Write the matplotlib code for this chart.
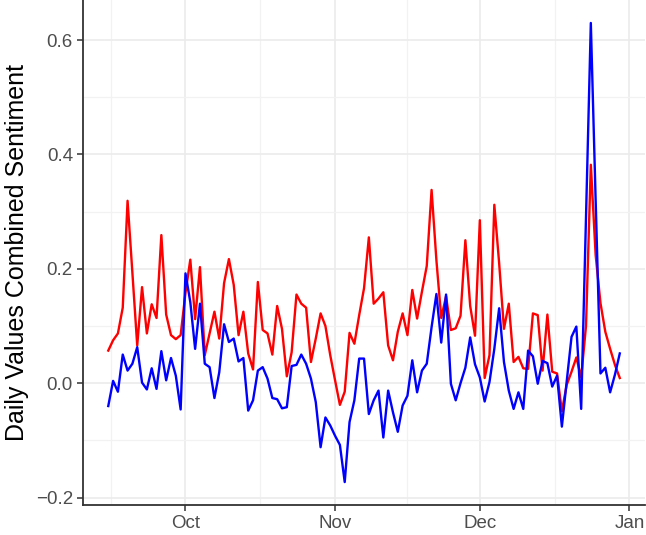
import numpy as np
import pandas as pd
import matplotlib
matplotlib.use("Agg")
import matplotlib.pyplot as plt
import matplotlib.dates as mdates

plt.rcParams['font.family'] = ['Liberation Sans', 'DejaVu Sans']

# daily values, 15 Sep - 30 Dec
dates = pd.date_range("2019-09-15", "2019-12-30", freq="D")

red_vals = [
    0.057, 0.075, 0.087, 0.132, 0.319, 0.193, 0.066, 0.168, 0.087, 0.138,
    0.114, 0.259, 0.120, 0.084, 0.077, 0.084,
    0.158, 0.216, 0.112, 0.203, 0.049, 0.087, 0.125, 0.078, 0.175, 0.217,
    0.172, 0.084, 0.125, 0.052, 0.024, 0.177, 0.093, 0.087, 0.050, 0.135,
    0.095, 0.012, 0.054, 0.155, 0.139, 0.132, 0.037, 0.078, 0.122, 0.100,
    0.049,
    0.005, -0.038, -0.015, 0.088, 0.069, 0.119, 0.166, 0.255, 0.139, 0.148,
    0.159, 0.066, 0.040, 0.090, 0.122, 0.084, 0.163, 0.113, 0.160, 0.205,
    0.338, 0.215, 0.114, 0.152, 0.093, 0.096, 0.118, 0.250, 0.135, 0.083,
    0.285, 0.009, 0.049, 0.312, 0.210, 0.095, 0.139, 0.037, 0.046, 0.026,
    0.025, 0.122, 0.119, 0.022, 0.120, 0.020, 0.017, -0.049, -0.003, 0.020,
    0.045, 0.010, 0.100, 0.382, 0.224, 0.140, 0.090, 0.060, 0.032, 0.009,
]

blue_vals = [
    -0.040, 0.004, -0.015, 0.050, 0.022, 0.034, 0.063, 0.001, -0.011, 0.026,
    -0.010, 0.056, 0.005, 0.044, 0.013, -0.046,
    0.192, 0.142, 0.060, 0.139, 0.034, 0.028, -0.026, 0.019, 0.103, 0.072,
    0.078, 0.038, 0.044, -0.048, -0.030, 0.022, 0.028, 0.008, -0.026, -0.028,
    -0.044, -0.042, 0.030, 0.032, 0.050, 0.034, 0.008, -0.033, -0.112, -0.060,
    -0.074,
    -0.092, -0.108, -0.173, -0.068, -0.030, 0.043, 0.043, -0.054, -0.030, -0.013,
    -0.095, -0.013, -0.051, -0.085, -0.039, -0.022, 0.040, -0.016, 0.022, 0.034,
    0.098, 0.156, 0.071, 0.155, -0.001, -0.030, 0.000, 0.027, 0.080, 0.033,
    0.010, -0.032, 0.002, 0.060, 0.131, 0.037, -0.013, -0.045, -0.016, -0.045,
    0.057, 0.047, -0.001, 0.039, 0.035, -0.006, 0.013, -0.076, 0.003, 0.081,
    0.099, -0.045, 0.290, 0.630, 0.320, 0.017, 0.027, -0.016, 0.015, 0.052,
]

major_x = pd.to_datetime(["2019-10-01", "2019-11-01", "2019-12-01", "2020-01-01"])
x_labels = ["Oct", "Nov", "Dec", "Jan"]
major_y = [-0.2, 0.0, 0.2, 0.4, 0.6]
y_labels = ["\u22120.2", "0.0", "0.2", "0.4", "0.6"]

fig = plt.figure(figsize=(6.46, 5.35), dpi=100)
ax = fig.add_axes([0.128, 0.056, 0.871, 0.944])

ax.plot(dates, red_vals, color="red", lw=1.7, zorder=3)
ax.plot(dates, blue_vals, color="blue", lw=1.7, zorder=4)

# ggplot style expansion (5%)
span = dates[-1] - dates[0]
ax.set_xlim(dates[0] - span * 0.05, dates[-1] + span * 0.05)
allv = np.array(red_vals + blue_vals)
rng = allv.max() - allv.min()
ax.set_ylim(allv.min() - 0.05 * rng, allv.max() + 0.05 * rng)

xnum = mdates.date2num(major_x)
ax.set_xticks(xnum)
ax.set_xticklabels(x_labels)
minor_x = list((xnum[:-1] + xnum[1:]) / 2)
minor_x = [xnum[0] - (xnum[1] - xnum[0]) / 2] + minor_x
ax.set_xticks(minor_x, minor=True)
ax.set_yticks(major_y)
ax.set_yticklabels(y_labels)
ax.set_yticks([-0.1, 0.1, 0.3, 0.5], minor=True)

ax.grid(which="major", color="#EBEBEB", lw=1.2, zorder=0)
ax.grid(which="minor", color="#F2F2F2", lw=0.9, zorder=0)
ax.set_axisbelow(True)

for s in ["top", "right"]:
    ax.spines[s].set_visible(False)
for s in ["left", "bottom"]:
    ax.spines[s].set_color("#333333")
    ax.spines[s].set_linewidth(1.3)

ax.tick_params(which="major", length=4, width=1.1, color="#333333",
               labelsize=13.5, labelcolor="#4D4D4D", pad=3)
ax.tick_params(which="minor", length=0)

ax.set_ylabel("Daily Values Combined Sentiment", fontsize=18, color="black", labelpad=5)

fig.savefig("out.png", dpi=100)
